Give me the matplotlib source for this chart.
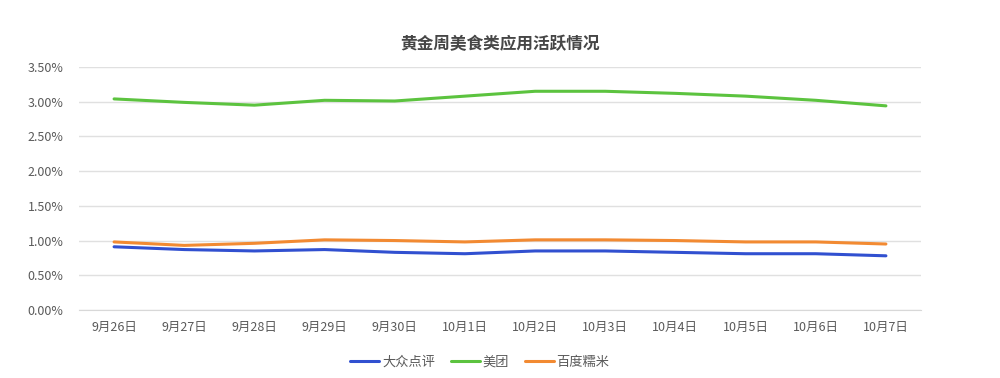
import matplotlib.pyplot as plt
from matplotlib.ticker import FuncFormatter

plt.rcParams['font.family'] = ['Noto Sans CJK SC', 'DejaVu Sans']

# 日期
dias = ['9月26日', '9月27日', '9月28日', '9月29日', '9月30日', '10月1日',
        '10月2日', '10月3日', '10月4日', '10月5日', '10月6日', '10月7日']

# 各应用活跃占比 (%)
dazhong = [0.91, 0.87, 0.85, 0.87, 0.83, 0.81, 0.85, 0.85, 0.83, 0.81, 0.81, 0.78]
meituan = [3.04, 2.99, 2.95, 3.02, 3.01, 3.08, 3.15, 3.15, 3.12, 3.08, 3.02, 2.94]
nuomi = [0.98, 0.93, 0.96, 1.01, 1.00, 0.98, 1.01, 1.01, 1.00, 0.98, 0.98, 0.95]

series = [('大众点评', dazhong, '#3150d0'),
          ('美团', meituan, '#5cc33f'),
          ('百度糯米', nuomi, '#f28a32')]

fig = plt.figure(figsize=(10, 3.78), dpi=100)
ax = fig.add_axes([0.079, 0.18, 0.842, 0.6428])

x = range(len(dias))
for nome, vals, cor in series:
    ax.plot(x, vals, color=cor, linewidth=2.2, label=nome, solid_capstyle='round')

ax.set_xlim(-0.5, len(dias) - 0.5)
ax.set_ylim(0, 3.5)
ax.set_yticks([0, 0.5, 1.0, 1.5, 2.0, 2.5, 3.0, 3.5])
ax.yaxis.set_major_formatter(FuncFormatter(lambda v, p: '%.2f%%' % v))
ax.set_xticks(list(x))
ax.set_xticklabels(dias)

ax.grid(axis='y', color='#e0e0e0', linewidth=1)
ax.set_axisbelow(True)
for s in ['top', 'right', 'left']:
    ax.spines[s].set_visible(False)
ax.spines['bottom'].set_color('#d8d8d8')
ax.tick_params(axis='both', length=0, labelsize=9, colors='#5a5a5a')
ax.tick_params(axis='y', pad=11)
ax.tick_params(axis='x', pad=8)

fig.text(0.5, 0.883, '黄金周美食类应用活跃情况', ha='center', va='center',
         fontsize=12, fontweight='bold', color='#464646')

fig.legend(loc='center', bbox_to_anchor=(0.48, 0.042), ncol=3, frameon=False,
           fontsize=9.5, handlelength=2.2, handletextpad=0.2, columnspacing=1.2,
           labelcolor='#5a5a5a')

fig.savefig('out.png', dpi=100)
